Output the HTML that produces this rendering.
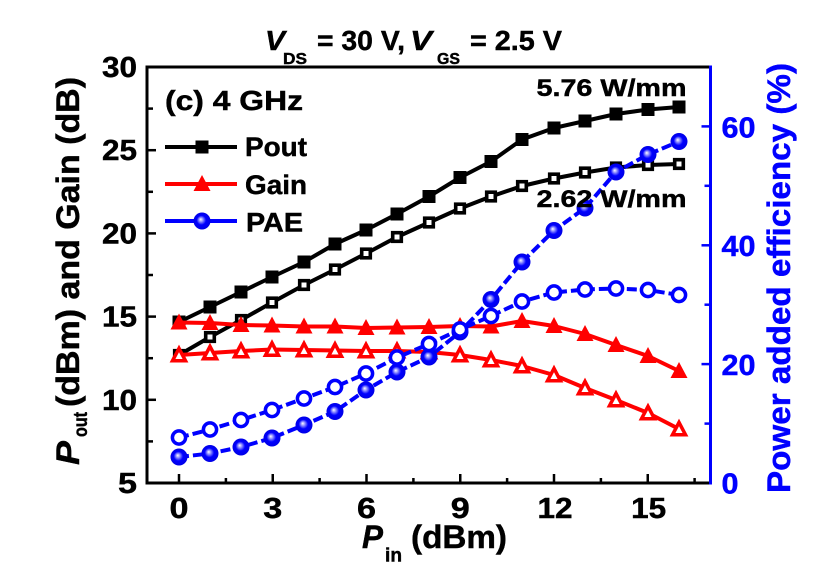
<!DOCTYPE html>
<html><head><meta charset="utf-8"><style>
html,body{margin:0;padding:0;background:#fff;}
svg{display:block;}
text{font-family:"Liberation Sans",Arial,sans-serif;font-weight:bold;stroke:#000;stroke-width:0.45px;}
.b text, text.b{stroke:#00f;}
</style></head><body>
<svg width="826" height="580" viewBox="0 0 826 580" xmlns="http://www.w3.org/2000/svg">
<defs>
<radialGradient id="g" cx="0.5" cy="0.5" r="0.5" fx="0.42" fy="0.4">
<stop offset="0" stop-color="#ffffff"/>
<stop offset="0.22" stop-color="#9a9aff"/>
<stop offset="0.55" stop-color="#0000ff"/>
<stop offset="1" stop-color="#0000e6"/>
</radialGradient>
<rect id="sq" x="-6.5" y="-6.5" width="13" height="13" fill="#000"/>
<rect id="osq" x="-4.3" y="-4.3" width="8.6" height="8.6" fill="#fff" stroke="#000" stroke-width="3.6"/>
<path id="tri" d="M-8.5,7 L8.5,7 L0,-9 Z" fill="#f00"/>
<path id="otri" d="M-6.5,5.8 L6.5,5.8 L0,-6.6 Z" fill="#fff" stroke="#f00" stroke-width="3.5" stroke-linejoin="miter"/>
<circle id="fc" r="8.5" fill="url(#g)"/>
<circle id="oc" r="6.6" fill="#fff" stroke="#00f" stroke-width="3.5"/>
</defs>
<rect width="826" height="580" fill="#fff"/>

<!-- Title -->
<text x="265" y="50" font-size="28" font-style="italic" textLength="20" lengthAdjust="spacingAndGlyphs">V</text>
<text x="283" y="64" font-size="16" textLength="24" lengthAdjust="spacingAndGlyphs">DS</text>
<text x="317" y="50" font-size="28" textLength="88" lengthAdjust="spacingAndGlyphs">= 30 V,</text>
<text x="410" y="50" font-size="28" font-style="italic" textLength="22" lengthAdjust="spacingAndGlyphs">V</text>
<text x="437" y="64" font-size="16" textLength="23" lengthAdjust="spacingAndGlyphs">GS</text>
<text x="470" y="50" font-size="28" textLength="92" lengthAdjust="spacingAndGlyphs">= 2.5 V</text>

<!-- Axes -->
<g stroke="#000" stroke-width="3" fill="none">
<line x1="147" y1="67" x2="709" y2="67"/>
<line x1="147" y1="65.5" x2="147" y2="484.5"/>
<line x1="145.5" y1="483" x2="709" y2="483"/>
</g>
<line x1="710.5" y1="65.5" x2="710.5" y2="484.5" stroke="#00f" stroke-width="3"/>

<!-- Left ticks -->
<g stroke="#000" stroke-width="2.5">
<line x1="147" y1="150.2" x2="156" y2="150.2"/>
<line x1="147" y1="233.4" x2="156" y2="233.4"/>
<line x1="147" y1="316.6" x2="156" y2="316.6"/>
<line x1="147" y1="399.8" x2="156" y2="399.8"/>
<line x1="147" y1="108.6" x2="153" y2="108.6"/>
<line x1="147" y1="191.8" x2="153" y2="191.8"/>
<line x1="147" y1="275" x2="153" y2="275"/>
<line x1="147" y1="358.2" x2="153" y2="358.2"/>
<line x1="147" y1="441.4" x2="153" y2="441.4"/>
<!-- bottom ticks -->
<line x1="179" y1="483" x2="179" y2="474"/>
<line x1="272.75" y1="483" x2="272.75" y2="474"/>
<line x1="366.5" y1="483" x2="366.5" y2="474"/>
<line x1="460.25" y1="483" x2="460.25" y2="474"/>
<line x1="554" y1="483" x2="554" y2="474"/>
<line x1="647.75" y1="483" x2="647.75" y2="474"/>
<line x1="225.9" y1="483" x2="225.9" y2="478"/>
<line x1="319.6" y1="483" x2="319.6" y2="478"/>
<line x1="413.4" y1="483" x2="413.4" y2="478"/>
<line x1="507.1" y1="483" x2="507.1" y2="478"/>
<line x1="600.9" y1="483" x2="600.9" y2="478"/>
<line x1="694.6" y1="483" x2="694.6" y2="478"/>
</g>
<!-- right ticks -->
<g stroke="#00f" stroke-width="2.5">
<line x1="710.5" y1="364.1" x2="701.5" y2="364.1"/>
<line x1="710.5" y1="245.3" x2="701.5" y2="245.3"/>
<line x1="710.5" y1="126.4" x2="701.5" y2="126.4"/>
<line x1="710.5" y1="423.6" x2="704.5" y2="423.6"/>
<line x1="710.5" y1="304.7" x2="704.5" y2="304.7"/>
<line x1="710.5" y1="185.8" x2="704.5" y2="185.8"/>
</g>

<!-- Left tick labels -->
<g font-size="28.5" text-anchor="end">
<text x="137" y="77" textLength="35" lengthAdjust="spacingAndGlyphs">30</text>
<text x="137" y="160.2" textLength="35" lengthAdjust="spacingAndGlyphs">25</text>
<text x="137" y="243.4" textLength="35" lengthAdjust="spacingAndGlyphs">20</text>
<text x="137" y="326.6" textLength="35" lengthAdjust="spacingAndGlyphs">15</text>
<text x="137" y="409.8" textLength="35" lengthAdjust="spacingAndGlyphs">10</text>
<text x="137" y="493" textLength="19" lengthAdjust="spacingAndGlyphs">5</text>
</g>
<!-- Bottom tick labels -->
<g font-size="28.5" text-anchor="middle">
<text x="179" y="518" textLength="19" lengthAdjust="spacingAndGlyphs">0</text>
<text x="272.75" y="518" textLength="19" lengthAdjust="spacingAndGlyphs">3</text>
<text x="366.5" y="518" textLength="19" lengthAdjust="spacingAndGlyphs">6</text>
<text x="460.25" y="518" textLength="19" lengthAdjust="spacingAndGlyphs">9</text>
<text x="555" y="518" textLength="35" lengthAdjust="spacingAndGlyphs">12</text>
<text x="648.7" y="518" textLength="35" lengthAdjust="spacingAndGlyphs">15</text>
</g>
<!-- Right tick labels -->
<g font-size="28.5" fill="#00f" class="b">
<text x="721.5" y="493.5" textLength="17" lengthAdjust="spacingAndGlyphs">0</text>
<text x="721.5" y="375" textLength="34" lengthAdjust="spacingAndGlyphs">20</text>
<text x="721.5" y="256.2" textLength="34" lengthAdjust="spacingAndGlyphs">40</text>
<text x="721.5" y="137.6" textLength="34" lengthAdjust="spacingAndGlyphs">60</text>
</g>

<!-- Axis labels -->
<g transform="translate(79,465) rotate(-90)">
<text x="0" y="0" font-size="32" font-style="italic" textLength="24" lengthAdjust="spacingAndGlyphs">P</text>
<text x="28" y="8" font-size="19" textLength="25" lengthAdjust="spacingAndGlyphs">out</text>
<text x="58" y="0" font-size="32" textLength="330" lengthAdjust="spacingAndGlyphs">(dBm) and Gain (dB)</text>
</g>
<g transform="translate(790,493) rotate(-90)" class="b">
<text x="0" y="0" font-size="32" fill="#00f" textLength="430" lengthAdjust="spacingAndGlyphs">Power added efficiency (%)</text>
</g>
<text x="362" y="548" font-size="32" font-style="italic" textLength="21" lengthAdjust="spacingAndGlyphs">P</text>
<text x="385" y="561.5" font-size="19" textLength="17" lengthAdjust="spacingAndGlyphs">in</text>
<text x="411" y="548" font-size="32" textLength="96" lengthAdjust="spacingAndGlyphs">(dBm)</text>

<!-- Series: Pout filled -->
<polyline fill="none" stroke="#000" stroke-width="4" stroke-linejoin="round" points="179,322 210,307 241,292 272,277 304,262 335,244 366,230 397,214 429,196.5 460,177.5 491,161.5 522,139.5 554,128 585,121 616,114 648,109.5 679,107"/>
<g>
<use href="#sq" x="179" y="322"/><use href="#sq" x="210" y="307"/><use href="#sq" x="241" y="292"/><use href="#sq" x="272" y="277"/><use href="#sq" x="304" y="262"/><use href="#sq" x="335" y="244"/><use href="#sq" x="366" y="230"/><use href="#sq" x="397" y="214"/><use href="#sq" x="429" y="196.5"/><use href="#sq" x="460" y="177.5"/><use href="#sq" x="491" y="161.5"/><use href="#sq" x="522" y="139.5"/><use href="#sq" x="554" y="128"/><use href="#sq" x="585" y="121"/><use href="#sq" x="616" y="114"/><use href="#sq" x="648" y="109.5"/><use href="#sq" x="679" y="107"/>
</g>
<!-- Pout open -->
<polyline fill="none" stroke="#000" stroke-width="4" stroke-linejoin="round" points="179,355 210,337 241,320 272,302.5 304,285 335,269.5 366,253.5 397,237 429,222.5 460,208.5 491,196.5 522,186 554,178.5 585,172.5 616,167.5 648,165 679,164"/>
<g>
<use href="#osq" x="179" y="355"/><use href="#osq" x="210" y="337"/><use href="#osq" x="241" y="320"/><use href="#osq" x="272" y="302.5"/><use href="#osq" x="304" y="285"/><use href="#osq" x="335" y="269.5"/><use href="#osq" x="366" y="253.5"/><use href="#osq" x="397" y="237"/><use href="#osq" x="429" y="222.5"/><use href="#osq" x="460" y="208.5"/><use href="#osq" x="491" y="196.5"/><use href="#osq" x="522" y="186"/><use href="#osq" x="554" y="178.5"/><use href="#osq" x="585" y="172.5"/><use href="#osq" x="616" y="167.5"/><use href="#osq" x="648" y="165"/><use href="#osq" x="679" y="164"/>
</g>
<!-- Gain filled -->
<polyline fill="none" stroke="#f00" stroke-width="4" stroke-linejoin="round" points="179,322.5 210,323 241,325 272,325.5 304,326.5 335,326.5 366,328 397,327.5 429,327 460,326 491,326.5 522,321 554,326 585,334 616,345 648,356 679,371"/>
<g>
<use href="#tri" x="179" y="322.5"/><use href="#tri" x="210" y="323"/><use href="#tri" x="241" y="325"/><use href="#tri" x="272" y="325.5"/><use href="#tri" x="304" y="326.5"/><use href="#tri" x="335" y="326.5"/><use href="#tri" x="366" y="328"/><use href="#tri" x="397" y="327.5"/><use href="#tri" x="429" y="327"/><use href="#tri" x="460" y="326"/><use href="#tri" x="491" y="326.5"/><use href="#tri" x="522" y="321"/><use href="#tri" x="554" y="326"/><use href="#tri" x="585" y="334"/><use href="#tri" x="616" y="345"/><use href="#tri" x="648" y="356"/><use href="#tri" x="679" y="371"/>
</g>
<!-- Gain open -->
<polyline fill="none" stroke="#f00" stroke-width="4" stroke-linejoin="round" points="179,355 210,353 241,351 272,349.5 304,350 335,350.5 366,351 397,351 429,352 460,355 491,360 522,366 554,375 585,388 616,400 648,413 679,429"/>
<g>
<use href="#otri" x="179" y="355"/><use href="#otri" x="210" y="353"/><use href="#otri" x="241" y="351"/><use href="#otri" x="272" y="349.5"/><use href="#otri" x="304" y="350"/><use href="#otri" x="335" y="350.5"/><use href="#otri" x="366" y="351"/><use href="#otri" x="397" y="351"/><use href="#otri" x="429" y="352"/><use href="#otri" x="460" y="355"/><use href="#otri" x="491" y="360"/><use href="#otri" x="522" y="366"/><use href="#otri" x="554" y="375"/><use href="#otri" x="585" y="388"/><use href="#otri" x="616" y="400"/><use href="#otri" x="648" y="413"/><use href="#otri" x="679" y="429"/>
</g>
<!-- PAE filled -->
<polyline fill="none" stroke="#00f" stroke-width="4" stroke-dasharray="10 4" points="179,457 210,453.5 241,447 272,438 304,425 335,411.5 366,390 397,372 429,357 460,332 491,299.5 522,262 554,230.5 585,208 616,172 648,154.5 679,141.5"/>
<g>
<use href="#fc" x="179" y="457"/><use href="#fc" x="210" y="453.5"/><use href="#fc" x="241" y="447"/><use href="#fc" x="272" y="438"/><use href="#fc" x="304" y="425"/><use href="#fc" x="335" y="411.5"/><use href="#fc" x="366" y="390"/><use href="#fc" x="397" y="372"/><use href="#fc" x="429" y="357"/><use href="#fc" x="460" y="332"/><use href="#fc" x="491" y="299.5"/><use href="#fc" x="522" y="262"/><use href="#fc" x="554" y="230.5"/><use href="#fc" x="585" y="208"/><use href="#fc" x="616" y="172"/><use href="#fc" x="648" y="154.5"/><use href="#fc" x="679" y="141.5"/>
</g>
<!-- PAE open -->
<polyline fill="none" stroke="#00f" stroke-width="4" stroke-dasharray="10 4" points="179,437.5 210,429.5 241,420 272,410 304,398.5 335,387 366,373.5 397,357.5 429,344 460,329.5 491,316 522,301.5 554,292.5 585,289.5 616,288.5 648,290 679,295"/>
<g>
<use href="#oc" x="179" y="437.5"/><use href="#oc" x="210" y="429.5"/><use href="#oc" x="241" y="420"/><use href="#oc" x="272" y="410"/><use href="#oc" x="304" y="398.5"/><use href="#oc" x="335" y="387"/><use href="#oc" x="366" y="373.5"/><use href="#oc" x="397" y="357.5"/><use href="#oc" x="429" y="344"/><use href="#oc" x="460" y="329.5"/><use href="#oc" x="491" y="316"/><use href="#oc" x="522" y="301.5"/><use href="#oc" x="554" y="292.5"/><use href="#oc" x="585" y="289.5"/><use href="#oc" x="616" y="288.5"/><use href="#oc" x="648" y="290"/><use href="#oc" x="679" y="295"/>
</g>

<!-- Panel label -->
<text x="165" y="110" font-size="28" textLength="138" lengthAdjust="spacingAndGlyphs">(c) 4 GHz</text>

<!-- Legend -->
<line x1="165" y1="147" x2="237" y2="147" stroke="#000" stroke-width="4"/>
<use href="#sq" x="202" y="147"/>
<line x1="165" y1="184" x2="237" y2="184" stroke="#f00" stroke-width="4"/>
<use href="#tri" x="202" y="184"/>
<line x1="165" y1="221" x2="237" y2="221" stroke="#00f" stroke-width="4"/>
<use href="#fc" x="202" y="221"/>
<text x="245" y="156" font-size="27" textLength="62" lengthAdjust="spacingAndGlyphs">Pout</text>
<text x="245" y="194" font-size="27" textLength="62" lengthAdjust="spacingAndGlyphs">Gain</text>
<text x="246" y="231.5" font-size="27" textLength="57" lengthAdjust="spacingAndGlyphs">PAE</text>

<!-- Annotations -->
<text x="536.5" y="96" font-size="24" textLength="150" lengthAdjust="spacingAndGlyphs">5.76 W/mm</text>
<text x="536.5" y="207" font-size="24" textLength="150" lengthAdjust="spacingAndGlyphs">2.62 W/mm</text>
</svg>
</body></html>
